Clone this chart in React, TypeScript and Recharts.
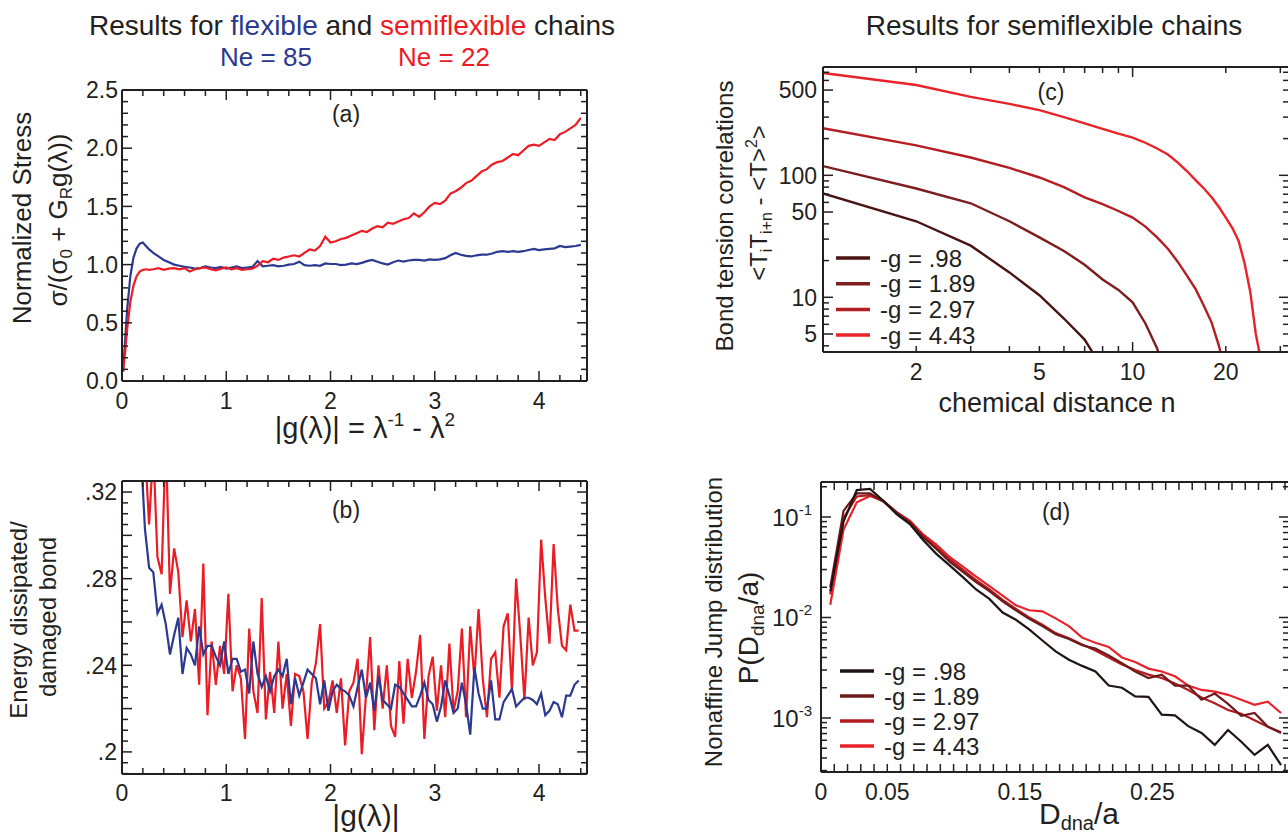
import React from 'react';
import { LineChart, Line, XAxis, YAxis } from 'recharts';

const FONT = '"Liberation Sans", Arial, Helvetica, sans-serif';
const INK = '#231f20';
const BLUE = '#2b3990';
const RED = '#ec1c24';

// ---- (a) normalized stress vs |g(lambda)|
const aX = [
  0.01, 0.03, 0.05, 0.08, 0.11, 0.14, 0.17, 0.2, 0.23, 0.26, 0.3, 0.35, 0.4, 0.45, 0.5,
  0.55, 0.6, 0.65, 0.7, 0.75, 0.8, 0.85, 0.9, 0.95, 1.0,
  1.05, 1.1, 1.15, 1.2, 1.25, 1.3, 1.35, 1.4, 1.45, 1.5,
  1.55, 1.6, 1.65, 1.7, 1.75, 1.8, 1.85, 1.9, 1.95, 2.0,
  2.05, 2.1, 2.15, 2.2, 2.25, 2.3, 2.35, 2.4, 2.45, 2.5,
  2.55, 2.6, 2.65, 2.7, 2.75, 2.8, 2.85, 2.9, 2.95, 3.0,
  3.05, 3.1, 3.15, 3.2, 3.25, 3.3, 3.35, 3.4, 3.45, 3.5,
  3.55, 3.6, 3.65, 3.7, 3.75, 3.8, 3.85, 3.9, 3.95, 4.0,
  4.05, 4.1, 4.15, 4.2, 4.25, 4.3, 4.35, 4.4,
];
const aFlexible = [
  0.08, 0.35, 0.62, 0.9, 1.06, 1.14, 1.18, 1.19, 1.16, 1.13, 1.1, 1.07, 1.04, 1.02, 1.0,
  0.99, 0.98, 0.975, 0.965, 0.97, 0.985, 0.975, 0.97, 0.98, 0.965,
  0.975, 0.985, 0.97, 0.975, 0.98, 1.03, 0.985, 0.99, 0.995, 0.985,
  0.99, 1.0, 1.005, 1.025, 0.995, 0.99, 0.995, 0.99, 1.01, 1.005,
  1.005, 0.995, 1.0, 1.01, 1.005, 1.015, 1.03, 1.04, 1.025, 1.01,
  1.0, 1.02, 1.035, 1.025, 1.035, 1.04, 1.04, 1.035, 1.045, 1.04,
  1.045, 1.055, 1.08, 1.1, 1.085, 1.075, 1.07, 1.08, 1.085, 1.085,
  1.095, 1.11, 1.115, 1.11, 1.115, 1.11, 1.115, 1.125, 1.135, 1.125,
  1.13, 1.135, 1.14, 1.16, 1.15, 1.155, 1.16, 1.17,
];
const aSemiflexible = [
  0.08, 0.25, 0.45, 0.68, 0.82, 0.9, 0.94, 0.955, 0.96, 0.955, 0.96, 0.97, 0.955, 0.965, 0.97,
  0.96, 0.97, 0.94, 0.96, 0.97, 0.975, 0.96, 0.95, 0.965, 0.975,
  0.96, 0.97, 0.955, 0.96, 0.965, 0.99, 1.03, 1.02, 1.05, 1.04,
  1.06, 1.07, 1.08, 1.07, 1.1, 1.13, 1.12, 1.16, 1.24, 1.19,
  1.2, 1.22, 1.23, 1.25, 1.27, 1.29, 1.28, 1.31, 1.33, 1.32,
  1.36, 1.35, 1.37, 1.39, 1.4, 1.44, 1.41, 1.45, 1.5, 1.53,
  1.52, 1.55, 1.61, 1.63, 1.66, 1.7, 1.72, 1.76, 1.8, 1.82,
  1.86, 1.88, 1.89, 1.92, 1.95, 1.94, 1.98, 2.02, 2.03, 2.02,
  2.05, 2.08, 2.07, 2.12, 2.14, 2.17, 2.2, 2.26,
];

// ---- (b) energy dissipated per damaged bond
const bX = [
  0.18, 0.22, 0.26, 0.3, 0.34, 0.38, 0.42, 0.46, 0.5, 0.54,
  0.58, 0.62, 0.66, 0.7, 0.74, 0.78, 0.82, 0.86, 0.9, 0.94,
  0.98, 1.02, 1.06, 1.1, 1.14, 1.18, 1.22, 1.26, 1.3, 1.34,
  1.38, 1.42, 1.46, 1.5, 1.54, 1.58, 1.62, 1.66, 1.7, 1.74,
  1.78, 1.82, 1.86, 1.9, 1.94, 1.98, 2.02, 2.06, 2.1, 2.14,
  2.18, 2.22, 2.26, 2.3, 2.34, 2.38, 2.42, 2.46, 2.5, 2.54,
  2.58, 2.62, 2.66, 2.7, 2.74, 2.78, 2.82, 2.86, 2.9, 2.94,
  2.98, 3.02, 3.06, 3.1, 3.14, 3.18, 3.22, 3.26, 3.3, 3.34,
  3.38, 3.42, 3.46, 3.5, 3.54, 3.58, 3.62, 3.66, 3.7, 3.74,
  3.78, 3.82, 3.86, 3.9, 3.94, 3.98, 4.02, 4.06, 4.1, 4.14,
  4.18, 4.22, 4.26, 4.3, 4.34, 4.38,
];
const bSemiflexible = [
  0.36, 0.34, 0.305, 0.34, 0.29, 0.282, 0.345, 0.273, 0.294, 0.283,
  0.253, 0.27, 0.251, 0.266, 0.231, 0.287, 0.217, 0.251, 0.231, 0.249,
  0.236, 0.273, 0.228, 0.24, 0.234, 0.206, 0.257, 0.228, 0.218, 0.271,
  0.215, 0.237, 0.218, 0.251, 0.22, 0.236, 0.212, 0.236, 0.235, 0.228,
  0.206, 0.232, 0.241, 0.259, 0.22, 0.223, 0.233, 0.218, 0.234, 0.203,
  0.228, 0.232, 0.243, 0.199, 0.226, 0.253, 0.21, 0.24, 0.22, 0.24,
  0.212, 0.207, 0.242, 0.213, 0.243, 0.225, 0.237, 0.254, 0.206, 0.235,
  0.244, 0.219, 0.24, 0.216, 0.25, 0.219, 0.228, 0.257, 0.216, 0.258,
  0.234, 0.266, 0.234, 0.216, 0.243, 0.246, 0.225, 0.258, 0.264, 0.228,
  0.28, 0.254, 0.224, 0.262, 0.24, 0.246, 0.298, 0.271, 0.25, 0.296,
  0.266, 0.249, 0.247, 0.268, 0.256, 0.256,
];
const bFlexible = [
  0.34, 0.303, 0.285, 0.283, 0.264, 0.268, 0.259, 0.245, 0.254, 0.262,
  0.236, 0.248, 0.245, 0.24, 0.258, 0.245, 0.249, 0.249, 0.244, 0.24,
  0.251, 0.236, 0.243, 0.243, 0.237, 0.238, 0.227, 0.251, 0.236, 0.23,
  0.235, 0.228, 0.235, 0.238, 0.235, 0.243, 0.222, 0.234, 0.226, 0.232,
  0.238, 0.236, 0.234, 0.222, 0.233, 0.219, 0.228, 0.231, 0.229, 0.228,
  0.226, 0.221, 0.23, 0.238, 0.225, 0.232, 0.219, 0.235, 0.224, 0.222,
  0.22, 0.231, 0.23, 0.227, 0.224, 0.221, 0.221, 0.226, 0.232, 0.224,
  0.222, 0.214, 0.221, 0.233, 0.226, 0.218, 0.22, 0.232, 0.222, 0.208,
  0.239, 0.227, 0.22, 0.22, 0.233, 0.215, 0.215, 0.223, 0.226, 0.229,
  0.221, 0.223, 0.225, 0.225, 0.224, 0.222, 0.227, 0.217, 0.219, 0.223,
  0.222, 0.216, 0.226, 0.226, 0.231, 0.233,
];

// ---- (c) bond tension correlations vs chemical distance n
const cN = [1, 2, 3, 4, 5, 6, 7, 8, 9, 10, 11, 12, 13, 14, 15, 16, 17, 18, 19, 20, 21, 22, 23, 24, 25, 26];
const cG098 = [71, 42, 26.5, 16, 10.4, 6.7, 4.5, 2.6, null, null, null, null, null, null, null, null, null, null, null, null, null, null, null, null, null, null];
const cG189 = [119, 78, 59, 42, 31, 24, 18.5, 14, 11.5, 9.1, 6.1, 3.8, 2.0, null, null, null, null, null, null, null, null, null, null, null, null, null];
const cG297 = [243, 176, 140, 115, 96, 80, 66, 58, 51, 45, 38, 31, 25, 19.5, 15, 11.6, 8.5, 6.2, 4.0, 2.4, null, null, null, null, null, null];
const cG443 = [690, 550, 440, 385, 342, 300, 267, 240, 220, 204, 185, 166, 148, 127, 108, 91, 78, 66, 55, 45, 37, 29, 19, 11, 5, 3.0];

// ---- (d) nonaffine jump distribution
const dX = [
  0.007, 0.017, 0.027, 0.037, 0.047, 0.057, 0.067, 0.077, 0.087, 0.097,
  0.107, 0.117, 0.127, 0.137, 0.147, 0.157, 0.167, 0.177, 0.187, 0.197,
  0.207, 0.217, 0.227, 0.237, 0.247, 0.257, 0.267, 0.277, 0.287, 0.297,
  0.307, 0.317, 0.327, 0.337, 0.347,
];
const dG098 = [
  0.0182, 0.09, 0.185, 0.19, 0.145, 0.107, 0.085, 0.059, 0.043, 0.033,
  0.0252, 0.019, 0.0153, 0.0112, 0.0095, 0.0076, 0.0059, 0.0046, 0.0038, 0.0033,
  0.0029, 0.0021, 0.002, 0.00164, 0.00162, 0.00108, 0.00106, 0.00083, 0.00071, 0.00054,
  0.00076, 0.00058, 0.00043, 0.00054, 0.00034,
];
const dG189 = [
  0.02, 0.115, 0.172, 0.172, 0.143, 0.11, 0.088, 0.063, 0.048, 0.036,
  0.0285, 0.0225, 0.0183, 0.0145, 0.0118, 0.0097, 0.0082, 0.0068, 0.0061, 0.0053,
  0.0049, 0.0042, 0.0035, 0.0029, 0.0025, 0.0027, 0.0021, 0.0021, 0.00152, 0.00175,
  0.00138, 0.00105, 0.00112, 0.00082, 0.00071,
];
const dG297 = [
  0.017, 0.098, 0.16, 0.165, 0.143, 0.112, 0.09, 0.065, 0.05, 0.038,
  0.03, 0.0235, 0.019, 0.015, 0.0122, 0.01, 0.0085, 0.007, 0.0062, 0.0054,
  0.0047, 0.004, 0.0034, 0.003, 0.0027, 0.0025, 0.0022, 0.0019, 0.0016, 0.0014,
  0.0012, 0.0011, 0.00095, 0.00082, 0.00072,
];
const dG443 = [
  0.0134, 0.075, 0.14, 0.162, 0.145, 0.112, 0.092, 0.067, 0.053, 0.04,
  0.032, 0.0255, 0.0205, 0.0165, 0.0132, 0.0118, 0.0115, 0.0098, 0.0082, 0.0063,
  0.0056, 0.0051, 0.004, 0.0036, 0.0031, 0.0029, 0.0026, 0.0021, 0.0019, 0.00183,
  0.0017, 0.00152, 0.00135, 0.00145, 0.00112,
];

const gLabels = ['-g = .98', '-g = 1.89', '-g = 2.97', '-g = 4.43'];
const cColors = ['#4a1414', '#7e1d1d', '#b41e22', '#e8232a'];
const dColors = ['#1f1414', '#6e1a1a', '#b21c21', '#e8222a'];

// ---- ticks
const abXTicks = [0, 0.2, 0.4, 0.6, 0.8, 1, 1.2, 1.4, 1.6, 1.8, 2, 2.2, 2.4, 2.6, 2.8, 3, 3.2, 3.4, 3.6, 3.8, 4, 4.2, 4.4];
const abXLabels = [0, 1, 2, 3, 4];
const aYTicks = [0, 0.1, 0.2, 0.3, 0.4, 0.5, 0.6, 0.7, 0.8, 0.9, 1, 1.1, 1.2, 1.3, 1.4, 1.5, 1.6, 1.7, 1.8, 1.9, 2, 2.1, 2.2, 2.3, 2.4, 2.5];
const aYLabels = [0, 0.5, 1, 1.5, 2, 2.5];
const bYTicks = [0.19, 0.195, 0.2, 0.205, 0.21, 0.215, 0.22, 0.225, 0.23, 0.235, 0.24, 0.245, 0.25, 0.255, 0.26, 0.265, 0.27, 0.275, 0.28, 0.285, 0.29, 0.295, 0.3, 0.305, 0.31, 0.315, 0.32, 0.325];
const bYMajors = [0.2, 0.22, 0.24, 0.26, 0.28, 0.3, 0.32];
const bYLabels = [0.2, 0.24, 0.28, 0.32];
const cXTicks = [1, 2, 3, 4, 5, 6, 7, 8, 9, 10, 20, 30];
const cXLabels = [2, 5, 10, 20];
const cYTicks = [4, 5, 6, 7, 8, 9, 10, 20, 30, 40, 50, 60, 70, 80, 90, 100, 200, 300, 400, 500, 600, 700];
const cYLabels = [5, 10, 50, 100, 500];
const dXTicks = [0, 0.01, 0.02, 0.03, 0.04, 0.05, 0.06, 0.07, 0.08, 0.09, 0.1, 0.11, 0.12, 0.13, 0.14, 0.15, 0.16, 0.17, 0.18, 0.19, 0.2, 0.21, 0.22, 0.23, 0.24, 0.25, 0.26, 0.27, 0.28, 0.29, 0.3, 0.31, 0.32, 0.33, 0.34, 0.35];
const dXLabels = [0, 0.05, 0.15, 0.25];
const dYTicks = [0.0003, 0.0004, 0.0005, 0.0006, 0.0007, 0.0008, 0.0009, 0.001, 0.002, 0.003, 0.004, 0.005, 0.006, 0.007, 0.008, 0.009, 0.01, 0.02, 0.03, 0.04, 0.05, 0.06, 0.07, 0.08, 0.09, 0.1, 0.2];
const dYLabels = [0.001, 0.01, 0.1];

const aData = aX.map((x, i) => ({ x, flexible: aFlexible[i], semiflexible: aSemiflexible[i] }));
const bData = bX.map((x, i) => ({ x, flexible: bFlexible[i], semiflexible: bSemiflexible[i] }));
const cData = cN.map((n, i) => ({ n, g098: cG098[i], g189: cG189[i], g297: cG297[i], g443: cG443[i] }));
const dData = dX.map((x, i) => ({ x, g098: dG098[i], g189: dG189[i], g297: dG297[i], g443: dG443[i] }));

const AXIS = { stroke: INK, strokeWidth: 2 };

type Side = 'bottom' | 'top' | 'left' | 'right';
interface TickSpec {
  majors?: number[];
  labels?: number[];
  fmt?: (v: number) => React.ReactNode;
  majorLen?: number;
  minorLen?: number;
  gap?: number;
  fontSize?: number;
}

const same = (a: number, b: number) => Math.abs(a - b) <= 1e-9 * Math.max(Math.abs(a), Math.abs(b), 1e-12);

// inward tick marks, label only on the listed values
function makeTick(side: Side, spec: TickSpec = {}) {
  const { majors, labels, fmt = (v: number) => String(v), majorLen = 10, minorLen = 6, gap = 27, fontSize = 23 } = spec;
  return function AxisTick(props: any) {
    const { x, y, payload } = props;
    const v = Number(payload?.value);
    const len = majors && majors.some((m) => same(m, v)) ? majorLen : minorLen;
    const hasLabel = !!labels && labels.some((m) => same(m, v));
    let mark;
    if (side === 'bottom') mark = <line x1={x} y1={y} x2={x} y2={y - len} />;
    else if (side === 'top') mark = <line x1={x} y1={y} x2={x} y2={y + len} />;
    else if (side === 'left') mark = <line x1={x} y1={y} x2={x + len} y2={y} />;
    else mark = <line x1={x} y1={y} x2={x - len} y2={y} />;
    let text = null;
    if (hasLabel && side === 'bottom') {
      text = (
        <text x={x} y={y + gap} textAnchor="middle" fontSize={fontSize} fill={INK} fontFamily={FONT}>
          {fmt(v)}
        </text>
      );
    } else if (hasLabel && side === 'left') {
      text = (
        <text x={x - gap} y={y} dy="0.36em" textAnchor="end" fontSize={fontSize} fill={INK} fontFamily={FONT}>
          {fmt(v)}
        </text>
      );
    }
    return (
      <g>
        <g stroke={INK} strokeWidth={1.5}>{mark}</g>
        {text}
      </g>
    );
  };
}

// axes get 1px of room (an axis with zero size is not drawn at all)
const axisCommon = { tickSize: 0, tickMargin: 0, tickLine: false, axisLine: AXIS, interval: 0 as const, allowDataOverflow: true };

const pow10 = (v: number) => (
  <>
    10<tspan dy={-11} fontSize={15}>{String(Math.round(Math.log10(v)))}</tspan>
  </>
);

function PanelA() {
  return (
    <div style={{ position: 'absolute', left: 0, top: 0 }}>
      <LineChart width={640} height={460} data={aData} margin={{ top: 89, right: 52, bottom: 78, left: 121 }}>
        <XAxis xAxisId="b" dataKey="x" type="number" domain={[0, 4.46]} ticks={abXTicks} height={1} {...axisCommon}
          tick={makeTick('bottom', { majors: abXLabels, labels: abXLabels, gap: 28 })} />
        <XAxis xAxisId="t" orientation="top" dataKey="x" type="number" domain={[0, 4.46]} ticks={abXTicks} height={1} {...axisCommon}
          tick={makeTick('top', { majors: abXLabels })} />
        <YAxis yAxisId="l" type="number" domain={[0, 2.5]} ticks={aYTicks} width={1} {...axisCommon}
          tick={makeTick('left', { majors: aYLabels, labels: aYLabels, gap: 4, fmt: (v) => v.toFixed(1) })} />
        <YAxis yAxisId="r" orientation="right" type="number" domain={[0, 2.5]} ticks={aYTicks} width={1} {...axisCommon}
          tick={makeTick('right', { majors: aYLabels })} />
        <Line xAxisId="b" yAxisId="l" type="linear" dataKey="flexible" stroke={BLUE} strokeWidth={2.2} dot={false} activeDot={false} isAnimationActive={false} />
        <Line xAxisId="b" yAxisId="l" type="linear" dataKey="semiflexible" stroke={RED} strokeWidth={2.2} dot={false} activeDot={false} isAnimationActive={false} />
      </LineChart>
    </div>
  );
}

function PanelB() {
  return (
    <div style={{ position: 'absolute', left: 0, top: 420 }}>
      <LineChart width={640} height={415} data={bData} margin={{ top: 60, right: 52, bottom: 60, left: 121 }}>
        <XAxis xAxisId="b" dataKey="x" type="number" domain={[0, 4.46]} ticks={abXTicks} height={1} {...axisCommon}
          tick={makeTick('bottom', { majors: abXLabels, labels: abXLabels, gap: 27 })} />
        <XAxis xAxisId="t" orientation="top" dataKey="x" type="number" domain={[0, 4.46]} ticks={abXTicks} height={1} {...axisCommon}
          tick={makeTick('top', { majors: abXLabels })} />
        <YAxis yAxisId="l" type="number" domain={[0.1898, 0.3251]} ticks={bYTicks} width={1} {...axisCommon}
          tick={makeTick('left', { majors: bYMajors, labels: bYLabels, gap: 5, fmt: (v) => String(v).replace(/^0/, '') })} />
        <YAxis yAxisId="r" orientation="right" type="number" domain={[0.1898, 0.3251]} ticks={bYTicks} width={1} {...axisCommon}
          tick={makeTick('right', { majors: bYMajors })} />
        <Line xAxisId="b" yAxisId="l" type="linear" dataKey="semiflexible" stroke={RED} strokeWidth={2.2} dot={false} activeDot={false} isAnimationActive={false} />
        <Line xAxisId="b" yAxisId="l" type="linear" dataKey="flexible" stroke={BLUE} strokeWidth={2.2} dot={false} activeDot={false} isAnimationActive={false} />
      </LineChart>
    </div>
  );
}

const gKeys = ['g098', 'g189', 'g297', 'g443'];

function PanelC() {
  return (
    <div style={{ position: 'absolute', left: 640, top: 0 }}>
      <LineChart width={660} height={420} data={cData} margin={{ top: 66, right: 10, bottom: 67, left: 182 }}>
        <XAxis xAxisId="b" dataKey="n" type="number" scale="log" domain={[1, 32]} ticks={cXTicks} height={1} {...axisCommon}
          tick={makeTick('bottom', { majors: [1, 10], labels: cXLabels, gap: 28, fontSize: 23 })} />
        <XAxis xAxisId="t" orientation="top" dataKey="n" type="number" scale="log" domain={[1, 32]} ticks={cXTicks} height={1} {...axisCommon}
          tick={makeTick('top', { majors: [1, 10] })} />
        <YAxis yAxisId="l" type="number" scale="log" domain={[3.56, 773]} ticks={cYTicks} width={1} {...axisCommon}
          tick={makeTick('left', { majors: cYLabels, labels: cYLabels, gap: 6 })} />
        <YAxis yAxisId="r" orientation="right" type="number" scale="log" domain={[3.56, 773]} ticks={cYTicks} width={1} {...axisCommon}
          tick={makeTick('right', { majors: [10, 100] })} />
        {gKeys.map((k, i) => (
          <Line key={k} xAxisId="b" yAxisId="l" type="linear" dataKey={k} stroke={cColors[i]} strokeWidth={2.4} dot={false} activeDot={false} isAnimationActive={false} />
        ))}
      </LineChart>
    </div>
  );
}

function PanelD() {
  return (
    <div style={{ position: 'absolute', left: 640, top: 420 }}>
      <LineChart width={660} height={415} data={dData} margin={{ top: 61, right: 10, bottom: 62, left: 180 }}>
        <XAxis xAxisId="b" dataKey="x" type="number" domain={[0, 0.353]} ticks={dXTicks} height={1} {...axisCommon}
          tick={makeTick('bottom', { labels: dXLabels, gap: 28, minorLen: 8 })} />
        <XAxis xAxisId="t" orientation="top" dataKey="x" type="number" domain={[0, 0.353]} ticks={dXTicks} height={1} {...axisCommon}
          tick={makeTick('top', { minorLen: 8 })} />
        <YAxis yAxisId="l" type="number" scale="log" domain={[0.00029, 0.223]} ticks={dYTicks} width={1} {...axisCommon}
          tick={makeTick('left', { majors: dYLabels, labels: dYLabels, gap: 9, fontSize: 24, fmt: pow10 })} />
        <YAxis yAxisId="r" orientation="right" type="number" scale="log" domain={[0.00029, 0.223]} ticks={dYTicks} width={1} {...axisCommon}
          tick={makeTick('right', { majors: dYLabels })} />
        {[...gKeys].reverse().map((k) => (
          <Line key={k} xAxisId="b" yAxisId="l" type="linear" dataKey={k} stroke={dColors[gKeys.indexOf(k)]} strokeWidth={2.2} dot={false} activeDot={false} isAnimationActive={false} />
        ))}
      </LineChart>
    </div>
  );
}

function LegendBox({ x, y, step, colors }: { x: number; y: number; step: number; colors: string[] }) {
  return (
    <g>
      {gLabels.map((label, i) => (
        <g key={label}>
          <line x1={x} x2={x + 34} y1={y + i * step} y2={y + i * step} stroke={colors[i]} strokeWidth={3.5} />
          <text x={x + 44} y={y + i * step} dy="0.36em" fontSize={24} fill={INK}>{label}</text>
        </g>
      ))}
    </g>
  );
}

function Overlay() {
  const sub = 17;
  return (
    <svg width={1288} height={835} style={{ position: 'absolute', left: 0, top: 0, pointerEvents: 'none' }} fontFamily={FONT} fill={INK}>
      {/* headings */}
      <text x={352} y={35} fontSize={28} textAnchor="middle">
        Results for <tspan fill={BLUE}>flexible</tspan> and <tspan fill={RED}>semiflexible</tspan> chains
      </text>
      <text x={266} y={66} fontSize={26} textAnchor="middle" fill={BLUE}>Ne = 85</text>
      <text x={444} y={66} fontSize={26} textAnchor="middle" fill={RED}>Ne = 22</text>
      <text x={1054} y={35} fontSize={28} textAnchor="middle">Results for semiflexible chains</text>

      {/* panel letters */}
      <text x={346} y={122} fontSize={23} textAnchor="middle">(a)</text>
      <text x={346} y={518} fontSize={23} textAnchor="middle">(b)</text>
      <text x={1051} y={100} fontSize={23} textAnchor="middle">(c)</text>
      <text x={1056} y={520} fontSize={23} textAnchor="middle">(d)</text>

      {/* (a) axis titles */}
      <text transform="translate(31,218) rotate(-90)" fontSize={26} textAnchor="middle">Normalized Stress</text>
      <text transform="translate(67,220) rotate(-90)" fontSize={26} textAnchor="middle">
        σ/(σ<tspan fontSize={sub} dy={5}>0</tspan><tspan dy={-5}> + G</tspan><tspan fontSize={sub} dy={5}>R</tspan><tspan dy={-5}>g(λ))</tspan>
      </text>
      <text x={365} y={438} fontSize={29} textAnchor="middle">
        |g(λ)| = λ<tspan fontSize={19} dy={-12}>-1</tspan><tspan dy={12}> - λ</tspan><tspan fontSize={19} dy={-12}>2</tspan>
      </text>

      {/* (b) axis titles */}
      <text transform="translate(27,620) rotate(-90)" fontSize={24} textAnchor="middle">Energy dissipated/</text>
      <text transform="translate(56,617) rotate(-90)" fontSize={24} textAnchor="middle">damaged bond</text>
      <text x={366} y={826} fontSize={30} textAnchor="middle">|g(λ)|</text>

      {/* (c) axis titles */}
      <text transform="translate(733,216) rotate(-90)" fontSize={24} textAnchor="middle">Bond tension correlations</text>
      <text transform="translate(767,203) rotate(-90)" fontSize={24} textAnchor="middle">
        {'<T'}<tspan fontSize={16} dy={5}>i</tspan><tspan dy={-5}>T</tspan><tspan fontSize={16} dy={5}>i+n</tspan><tspan dy={-5}>{' - <T>'}</tspan><tspan fontSize={16} dy={-10}>2</tspan><tspan dy={10}>{'>'}</tspan>
      </text>
      <text x={1057} y={412} fontSize={27} textAnchor="middle">chemical distance n</text>

      {/* (d) axis titles */}
      <text transform="translate(722,622) rotate(-90)" fontSize={24} textAnchor="middle">Nonaffine Jump distribution</text>
      <text transform="translate(758,628) rotate(-90)" fontSize={28} textAnchor="middle">
        P(D<tspan fontSize={19} dy={6}>dna</tspan><tspan dy={-6}>/a)</tspan>
      </text>
      <text x={1079} y={824} fontSize={30} textAnchor="middle">
        D<tspan fontSize={20} dy={6}>dna</tspan><tspan dy={-6}>/a</tspan>
      </text>

      <LegendBox x={836} y={258} step={25.7} colors={cColors} />
      <LegendBox x={840} y={671} step={25} colors={dColors} />
    </svg>
  );
}

export default function App() {
  return (
    <div
      style={{
        position: 'fixed',
        left: 0,
        top: 0,
        width: 1288,
        height: 835,
        overflow: 'hidden',
        background: '#fff',
        fontFamily: FONT,
      }}
    >
      <PanelA />
      <PanelB />
      <PanelC />
      <PanelD />
      <Overlay />
    </div>
  );
}
